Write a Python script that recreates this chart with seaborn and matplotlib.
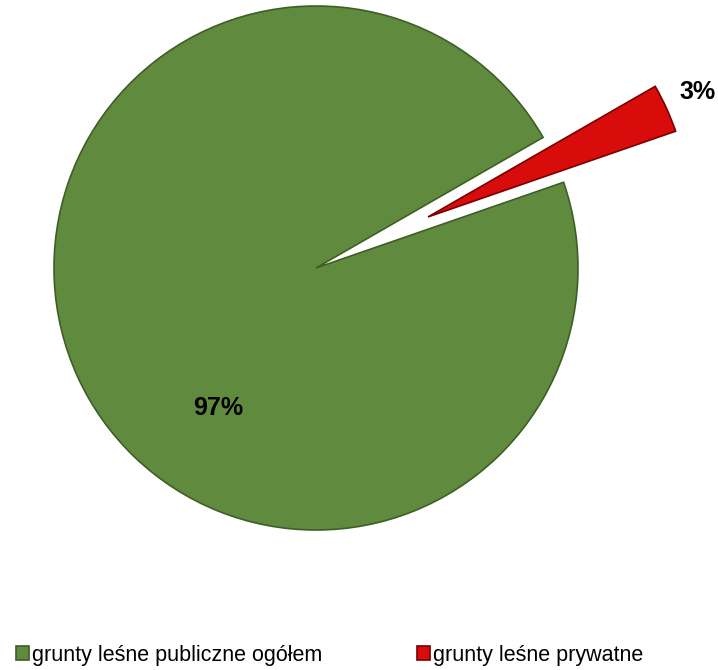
import matplotlib
matplotlib.use('Agg')
import matplotlib.pyplot as plt
import seaborn as sns

# Data
labels = ['grunty leśne publiczne ogółem', 'grunty leśne prywatne']
shares = [97, 3]
colors = ['#608b3f', '#d90c0c']
edge_colors = ['#3e5e26', '#7a0000']
explode = [0, 0.47]

sns.set_theme(style='white')
plt.rcParams['font.family'] = ['Liberation Sans', 'DejaVu Sans']

fig = plt.figure(figsize=(7.18, 6.7), dpi=100)
ax = fig.add_axes([0, 0, 1, 1])

wedges, texts, autotexts = ax.pie(
    shares, explode=explode, colors=colors, startangle=29.9,
    counterclock=True, autopct='%1.0f%%', radius=1,
    wedgeprops=dict(linewidth=1.2),
    textprops=dict(fontsize=18, fontweight='bold', color='black'))
for w, ec in zip(wedges, edge_colors):
    w.set_edgecolor(ec)

# pixel-like mapping: radius = 262 px, centre at (316, 268)
r_px = 262.0
cx, cy = 316.0, 268.0
ax.set_xlim(-cx / r_px, (718 - cx) / r_px)
ax.set_ylim(-(670 - cy) / r_px, cy / r_px)
ax.set_aspect('equal')
ax.axis('off')

# label placement
autotexts[0].set_position(((218 - cx) / r_px, (cy - 408) / r_px))
autotexts[1].set_position(((698 - cx) / r_px, (cy - 92) / r_px))

leg = ax.legend(wedges, labels, loc='center', ncol=2, frameon=False,
                fontsize=15.5, handlelength=0.6, handleheight=0.6,
                handletextpad=0.15, columnspacing=4.4, labelcolor='black',
                bbox_to_anchor=(0.459, 0.022), bbox_transform=fig.transFigure)

fig.savefig('out.png', dpi=100, facecolor='white')
